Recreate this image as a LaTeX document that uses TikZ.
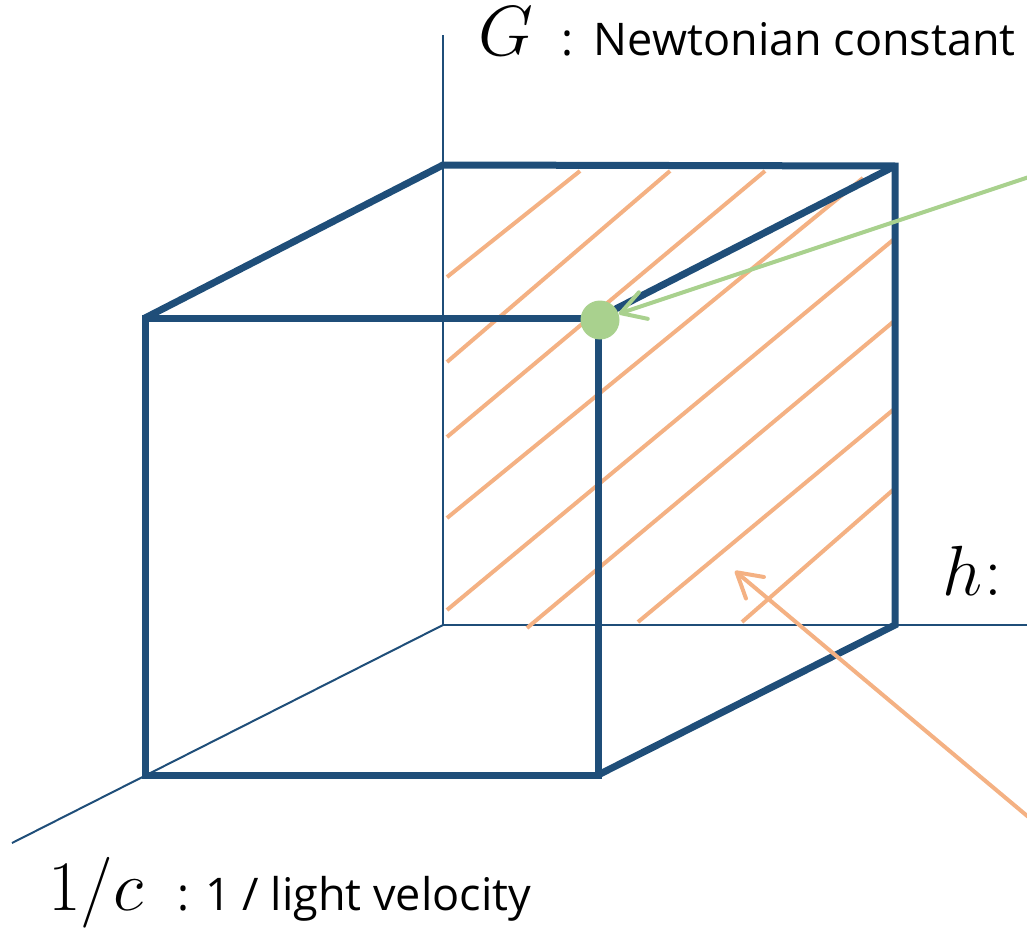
\RequirePackage{fix-cm}
\documentclass[tikz,border=0pt]{standalone}
\usepackage{fontspec}
\setmainfont{Open Sans}
\usetikzlibrary{arrows.meta}
\definecolor{cubeblue}{HTML}{1F4E79}
\definecolor{hatchorange}{HTML}{F4B183}
\definecolor{pointgreen}{HTML}{A9D18E}
\newcommand{\labsize}{\fontsize{45}{54}\selectfont}
\newcommand{\symsize}{\fontsize{71}{80}\selectfont}

\begin{document}
\begin{tikzpicture}[x=1pt,y=-1pt,
  axis/.style={cubeblue,line width=2pt},
  edge/.style={cubeblue,line width=7pt},
  hatch/.style={hatchorange,line width=4pt},
  pointer/.style={line width=4pt,-{Straight Barb[length=24pt,width=28pt,round]}}]
\useasboundingbox (0,0) rectangle (1027,928);
% cube corners
\coordinate (ftl) at (145,318);
\coordinate (ftr) at (598,318);
\coordinate (fbl) at (145,775);
\coordinate (fbr) at (598,775);
\coordinate (btl) at (443,165);
\coordinate (btr) at (895,166);
\coordinate (bbl) at (443,625);
\coordinate (bbr) at (895,625);
% axis ends
\coordinate (gtop) at (443,35);
\coordinate (hend) at (1030,625);
\coordinate (cend) at (12,843);
\draw[axis] (bbl) -- (gtop);
\draw[axis] (bbl) -- (hend);
\draw[axis] (bbl) -- (cend);
% hatching of the back face
\foreach \a/\b in {{447,277}/{580,171},{447,362}/{670,171},{447,437}/{765,171},
  {447,518}/{863,178},{447,610}/{893,240},{527,628}/{893,322},
  {638,622}/{893,410},{742,622}/{893,490}}
  \draw[hatch] (\a) -- (\b);
% thick edges
\draw[edge] (ftl) -- (btl) -- (btr) -- (bbr) -- (fbr);
\draw[edge] (ftr) -- (btr);
\draw[edge] (ftl) -- (ftr) -- (fbr) -- (fbl) -- cycle;
% point and pointers
\node[circle,fill=pointgreen,minimum size=39pt,inner sep=0pt] (pt) at (600,320) {};
\coordinate (gtail) at (1032,176);
\coordinate (otail) at (1032,820);
\coordinate (otip) at (735,571);
\draw[pointer,pointgreen] (gtail) -- (pt);
\draw[pointer,hatchorange] (otail) -- (otip);
% labels
\node[anchor=base west,inner sep=0pt] (glab) at (478,56)
  {{\symsize$G$}\hspace{28pt}{\labsize:\hspace{21pt}Newtonian constant}};
\node[anchor=base west,inner sep=0pt] (clab) at (48,910)
  {{\symsize$1/c$}\hspace{34pt}{\labsize:\hspace{16pt}1 / light velocity}};
\node[anchor=base west,inner sep=0pt] (hlab) at (942,595)
  {{\symsize$h$}\hspace{2pt}{\symsize$:$}};
\end{tikzpicture}
\end{document}
